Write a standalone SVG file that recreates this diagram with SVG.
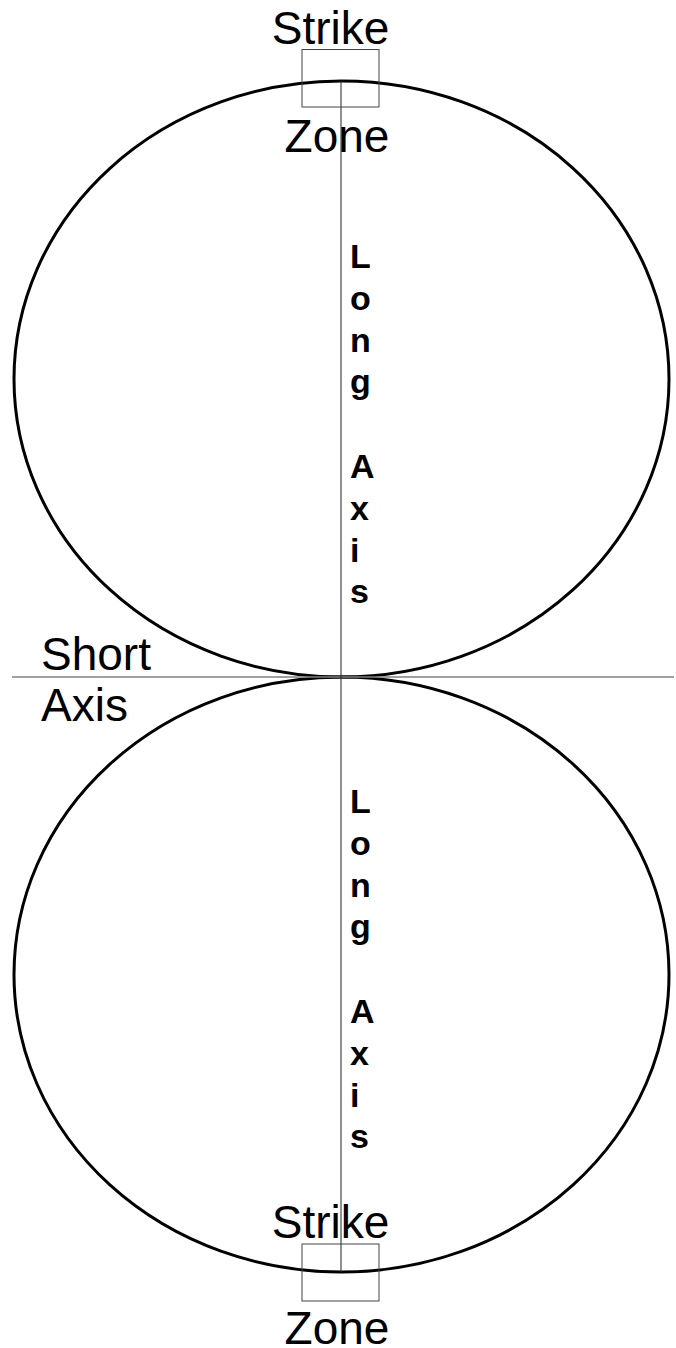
<svg xmlns="http://www.w3.org/2000/svg" width="676" height="1348" viewBox="0 0 676 1348">
<style>
.ell{fill:none;stroke:#000;stroke-width:3}
.zone{fill:none;stroke:#444;stroke-width:1}
.lbl{font-family:"Liberation Sans",Arial,sans-serif;font-size:46px;fill:#000}
.ax{font-family:"Liberation Sans",Arial,sans-serif;font-size:34px;font-weight:bold;fill:#000}
</style>
<rect width="676" height="1348" fill="#fff"/>
<g id="top-ellipse"><ellipse class="ell" cx="341.5" cy="379" rx="327.5" ry="298"/></g>
<g id="bottom-ellipse"><ellipse class="ell" cx="341.5" cy="974.5" rx="327.5" ry="297.5"/></g>
<g id="connectors">
<line x1="12" y1="677" x2="674" y2="677" stroke="#808080" stroke-width="1.5"/>
<line x1="341" y1="81" x2="341" y2="1272" stroke="#222" stroke-width="1"/>
</g>
<g id="top-strike-zone">
<rect class="zone" x="302" y="49.5" width="77" height="57.5"/>
<text class="lbl" x="330.5" y="44" text-anchor="middle">Strike</text>
<text class="lbl" x="337" y="152" text-anchor="middle">Zone</text>
</g>
<g id="bottom-strike-zone">
<rect class="zone" x="302" y="1244" width="77" height="57"/>
<text class="lbl" x="330.5" y="1238" text-anchor="middle">Strike</text>
<text class="lbl" x="337" y="1344" text-anchor="middle">Zone</text>
</g>
<g id="short-axis">
<text class="lbl" x="41" y="670">Short</text>
<text class="lbl" x="41" y="721">Axis</text>
</g>
<g id="top-long-axis">
<text class="ax" x="350" y="268">L</text>
<text class="ax" x="350" y="310">o</text>
<text class="ax" x="350" y="352">n</text>
<text class="ax" x="350" y="393">g</text>
<text class="ax" x="350" y="478">A</text>
<text class="ax" x="350" y="520">x</text>
<text class="ax" x="350" y="562">i</text>
<text class="ax" x="350" y="603">s</text>
</g>
<g id="bottom-long-axis">
<text class="ax" x="350" y="813">L</text>
<text class="ax" x="350" y="855">o</text>
<text class="ax" x="350" y="897">n</text>
<text class="ax" x="350" y="938">g</text>
<text class="ax" x="350" y="1023">A</text>
<text class="ax" x="350" y="1065">x</text>
<text class="ax" x="350" y="1107">i</text>
<text class="ax" x="350" y="1148">s</text>
</g>
</svg>
